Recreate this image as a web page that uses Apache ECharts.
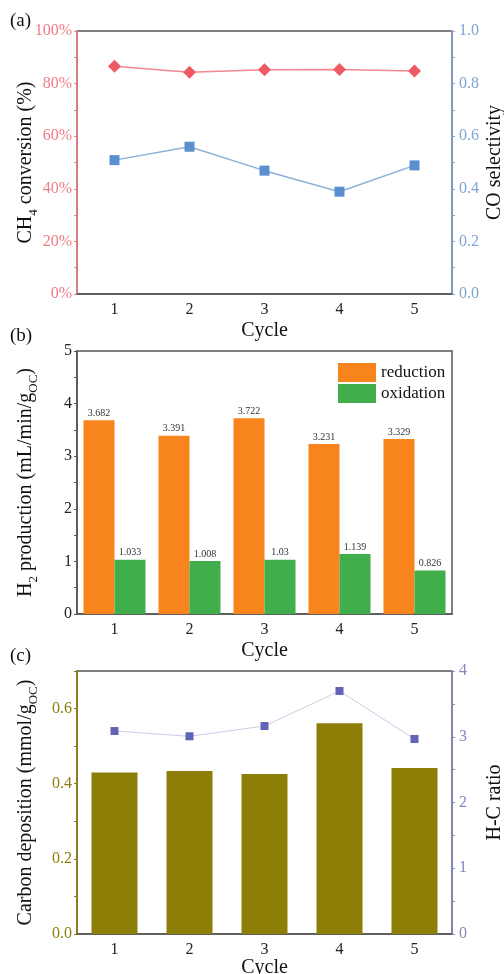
<!DOCTYPE html>
<html>
<head>
<meta charset="utf-8">
<script src="https://cdn.jsdelivr.net/npm/echarts@6/dist/echarts.min.js"></script>
<style>
  html, body { margin: 0; padding: 0; background: #fff; }
  #chart { width: 504px; height: 974px; }
</style>
</head>
<body>
<div id="chart"></div>
<script>
// cycles shared by all three panels
const cycles = ['1', '2', '3', '4', '5'];

// (a) CH4 conversion (%) and CO selectivity
const ch4Conversion = [86.6, 84.3, 85.3, 85.4, 84.8];
const coSelectivity = [0.509, 0.56, 0.469, 0.389, 0.489];

// (b) H2 production
const h2Reduction = [3.682, 3.391, 3.722, 3.231, 3.329];
const h2Oxidation = [1.033, 1.008, 1.03, 1.139, 0.826];

// (c) carbon deposition and H-C ratio
const carbonDeposition = [0.43, 0.434, 0.426, 0.561, 0.442];
const hcRatio = [3.087, 3.007, 3.163, 3.696, 2.966];

const FONT = 'Liberation Serif';
const DARK = '#555';

// 三个面板的网格
const grids = [
  { left: 77, top: 31, width: 375, height: 263 },
  { left: 77, top: 351, width: 375, height: 263 },
  { left: 77, top: 671, width: 375, height: 263 },
];

function xAxisFor(i) {
  return {
    type: 'category',
    gridIndex: i,
    data: cycles,
    boundaryGap: true,
    name: 'Cycle',
    nameLocation: 'middle',
    nameGap: i === 2 ? 24 : 27,
    nameMoveOverlap: false,
    nameTextStyle: { fontFamily: FONT, fontSize: 20, color: '#111' },
    axisLine: { lineStyle: { color: DARK, width: 1.5 } },
    axisTick: { alignWithLabel: true, inside: true, length: 5, lineStyle: { color: '#222' } },
    axisLabel: { fontFamily: FONT, fontSize: 16, color: '#222', margin: 8 },
  };
}

function yAxisFor(i, pos, color, opts) {
  return Object.assign({
    type: 'value',
    gridIndex: i,
    position: pos,
    splitLine: { show: false },
    axisLine: { show: true, lineStyle: { color: color, width: 1.5 } },
    axisTick: { show: true, length: 3, lineStyle: { color: color } },
    minorTick: { show: true, splitNumber: 2, length: 3, lineStyle: { color: color } },
    axisLabel: { fontFamily: FONT, fontSize: 16, color: color, margin: pos === 'left' ? 5 : 7 },
    nameLocation: 'middle',
    nameRotate: 90,
    nameMoveOverlap: false,
    nameGap: pos === 'left' ? 37 : 33,
    nameTextStyle: { fontFamily: FONT, fontSize: 20, color: '#111' },
  }, opts);
}

const richName = {
  a: { fontFamily: FONT, fontSize: 20, color: '#111', verticalAlign: 'top', lineHeight: 22 },
  s: { fontFamily: FONT, fontSize: 13, color: '#111', verticalAlign: 'top', padding: [11, 0, 0, 0] },
};

const PINK = '#ee7c84';
const BLUE = '#7ea5d2';
const OLIVE = '#8c7e06';
const PURPLE = '#8587c2';

const option = {
  animation: false,
  textStyle: { fontFamily: FONT },
  grid: grids.map(g => Object.assign({
    show: true, borderColor: DARK, borderWidth: 1.5, backgroundColor: 'transparent',
    containLabel: false, outerBoundsMode: 'none',
  }, g)),
  legend: {
    data: ['reduction', 'oxidation'],
    orient: 'vertical',
    left: 333,
    top: 358,
    itemWidth: 38,
    itemHeight: 19,
    itemGap: 2,
    icon: 'rect',
    textStyle: { fontFamily: FONT, fontSize: 17, color: '#111' },
  },
  xAxis: [xAxisFor(0), xAxisFor(1), xAxisFor(2)],
  yAxis: [
    yAxisFor(0, 'left', PINK, {
      min: 0, max: 100, interval: 20,
      axisLabel: { fontFamily: FONT, fontSize: 16, color: PINK, margin: 5, formatter: '{value}%' },
      name: '{a|CH}{s|4}{a| conversion (%)}',
      nameTextStyle: { rich: richName },
    }),
    yAxisFor(0, 'right', BLUE, {
      min: 0, max: 1, interval: 0.2,
      axisLabel: { fontFamily: FONT, fontSize: 16, color: BLUE, margin: 7, formatter: v => v.toFixed(1) },
      name: 'CO selectivity',
    }),
    yAxisFor(1, 'left', DARK, {
      min: 0, max: 5, interval: 1,
      axisLabel: { fontFamily: FONT, fontSize: 16, color: '#222', margin: 5 },
      name: '{a|H}{s|2}{a| production (mL/min/g}{s|OC}{a|)}',
      nameTextStyle: { rich: richName },
    }),
    yAxisFor(2, 'left', OLIVE, {
      min: 0, max: 0.7, interval: 0.2,
      axisLabel: { fontFamily: FONT, fontSize: 16, color: OLIVE, margin: 5, showMaxLabel: false, formatter: v => v.toFixed(1) },
      name: '{a|Carbon deposition (mmol/g}{s|OC}{a|)}',
      nameTextStyle: { rich: richName },
    }),
    yAxisFor(2, 'right', PURPLE, {
      min: 0, max: 4, interval: 1,
      axisLabel: { fontFamily: FONT, fontSize: 16, color: PURPLE, margin: 7 },
      name: 'H-C ratio',
    }),
  ],
  series: [
    {
      name: 'CH4 conversion', type: 'line', xAxisIndex: 0, yAxisIndex: 0,
      data: ch4Conversion,
      symbol: 'diamond', symbolSize: 13,
      itemStyle: { color: '#ee5a64' },
      lineStyle: { color: '#f2878e', width: 1.5 },
    },
    {
      name: 'CO selectivity', type: 'line', xAxisIndex: 0, yAxisIndex: 1,
      data: coSelectivity,
      symbol: 'rect', symbolSize: 10,
      itemStyle: { color: '#5a8fcf' },
      lineStyle: { color: '#8db0da', width: 1.5 },
    },
    {
      name: 'reduction', type: 'bar', xAxisIndex: 1, yAxisIndex: 2,
      data: h2Reduction,
      barWidth: 31, barGap: '0%',
      itemStyle: { color: '#f7841c' },
      label: { show: true, position: 'top', distance: 2, fontFamily: FONT, fontSize: 10, color: '#333' },
    },
    {
      name: 'oxidation', type: 'bar', xAxisIndex: 1, yAxisIndex: 2,
      data: h2Oxidation,
      barWidth: 31, barGap: '0%',
      itemStyle: { color: '#40ae4a' },
      label: { show: true, position: 'top', distance: 2, fontFamily: FONT, fontSize: 10, color: '#333' },
    },
    {
      name: 'Carbon deposition', type: 'bar', xAxisIndex: 2, yAxisIndex: 3,
      data: carbonDeposition,
      barWidth: 46,
      itemStyle: { color: OLIVE },
    },
    {
      name: 'H-C ratio', type: 'line', xAxisIndex: 2, yAxisIndex: 4,
      data: hcRatio,
      symbol: 'rect', symbolSize: 8,
      itemStyle: { color: '#6163b4' },
      lineStyle: { color: '#cbcbe8', width: 1 },
    },
  ],
  graphic: [
    { type: 'text', left: 10, top: 12, style: { text: '(a)', fontFamily: FONT, fontSize: 19, fill: '#111' } },
    { type: 'text', left: 10, top: 327, style: { text: '(b)', fontFamily: FONT, fontSize: 19, fill: '#111' } },
    { type: 'text', left: 10, top: 647, style: { text: '(c)', fontFamily: FONT, fontSize: 19, fill: '#111' } },
  ],
};

const chart = echarts.init(document.getElementById('chart'));
chart.setOption(option);
</script>
</body>
</html>
